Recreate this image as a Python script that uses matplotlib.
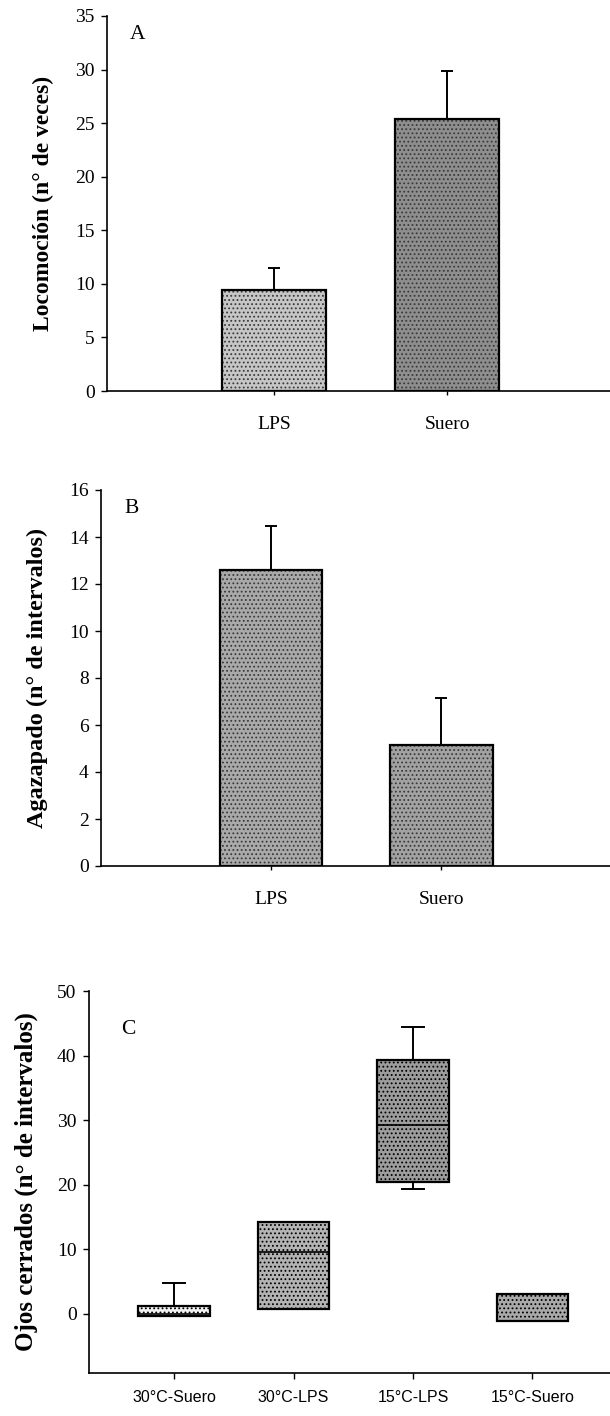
import numpy as np
import matplotlib
matplotlib.use('Agg')
import matplotlib.pyplot as plt

# Panel A: locomotion counts (mean + upper SE)
grupos_ab = ['LPS', 'Suero']
loco_media = [9.4, 25.4]
loco_err = [2.1, 4.5]

# Panel B: crouching intervals
agaz_media = [12.6, 5.15]
agaz_err = [1.85, 2.0]

# Panel C: eyes closed, box summaries
grupos_c = ['30°C-Suero', '30°C-LPS', '15°C-LPS', '15°C-Suero']
ojos_q1 = [-0.3, 0.7, 20.4, -1.2]
ojos_med = [0.0, 9.5, 29.3, -1.2]
ojos_q3 = [1.2, 14.2, 39.3, 3.1]
ojos_min = [-0.3, 0.7, 19.3, -1.2]
ojos_max = [4.8, 14.2, 44.4, 3.1]

tonos_ab = [['#c6c6c6', '#8e8e8e'], ['#a9a9a9', '#a2a2a2']]
tonos_c = ['#f2f2f2', '#b3b3b3', '#9c9c9c', '#a9a9a9']

plt.rcParams['font.family'] = 'serif'
plt.rcParams['font.serif'] = ['Liberation Serif', 'DejaVu Serif']
plt.rcParams['hatch.linewidth'] = 0.8

fig = plt.figure(figsize=(6.1, 14.16), dpi=100)
W, H = 610.0, 1416.0


def caja(x0, y_top, x1, y_bot):
    return [x0 / W, 1 - y_bot / H, (x1 - x0) / W, (y_bot - y_top) / H]


def estilo(ax):
    for s in ['top', 'right']:
        ax.spines[s].set_visible(False)
    for s in ['left', 'bottom']:
        ax.spines[s].set_linewidth(1.2)
    ax.tick_params(axis='y', direction='out', length=4, width=1, labelsize=14, pad=5)


def panel_barras(ax, medias, errs, tonos, xlim, ylim, yticks, letra, ylabel, labx, labsize):
    x = np.arange(1, len(medias) + 1)
    ax.bar(x, medias, width=0.6, color=tonos, edgecolor='none', zorder=2)
    ax.bar(x, medias, width=0.6, color='none', edgecolor='#3a3a3a', hatch='....',
           linewidth=0, zorder=3)
    ax.bar(x, medias, width=0.6, color='none', edgecolor='black', linewidth=1.6, zorder=4)
    ax.errorbar(x, medias, yerr=[np.zeros(len(errs)), errs], fmt='none', ecolor='black',
                elinewidth=1.4, capsize=4.5, capthick=1.4, zorder=1)
    ax.set_xlim(*xlim)
    ax.set_ylim(*ylim)
    ax.set_yticks(yticks)
    ax.set_xticks(x)
    ax.set_xticklabels(grupos_ab, fontsize=14)
    ax.tick_params(axis='x', direction='out', length=3, width=1, pad=15)
    estilo(ax)
    ax.text(0.06, 0.95, letra, transform=ax.transAxes, fontsize=15.5, ha='center', va='center')
    ax.set_ylabel(ylabel, fontsize=labsize, fontweight='bold')
    ax.yaxis.set_label_coords(labx, 0.5)


# A
axA = fig.add_axes(caja(107, 16, 610, 391))
panel_barras(axA, loco_media, loco_err, tonos_ab[0], (0.035, 2.94), (0, 35),
             range(0, 36, 5), 'A', 'Locomoción (n° de veces)', -0.105, 17)

# B
axB = fig.add_axes(caja(101, 490, 610, 866))
panel_barras(axB, agaz_media, agaz_err, tonos_ab[1], (0.0, 2.99), (0, 16),
             range(0, 17, 2), 'B', 'Agazapado (n° de intervalos)', -0.104, 17.5)

# C
axC = fig.add_axes(caja(89, 991, 610, 1373))
stats = []
for i in range(len(grupos_c)):
    stats.append({'q1': ojos_q1[i], 'med': ojos_med[i], 'q3': ojos_q3[i],
                  'whislo': ojos_min[i], 'whishi': ojos_max[i], 'fliers': []})
pos = np.arange(1, len(grupos_c) + 1)
bp = axC.bxp(stats, positions=pos, widths=0.6, patch_artist=True, showfliers=False,
             capwidths=0.19,
             boxprops=dict(linewidth=1.6, edgecolor='black'),
             medianprops=dict(color='black', linewidth=1.2),
             whiskerprops=dict(color='black', linewidth=1.4),
             capprops=dict(color='black', linewidth=1.4))
for caja_p, tono in zip(bp['boxes'], tonos_c):
    caja_p.set_facecolor(tono)
    caja_p.set_hatch('....')
    caja_p.set_zorder(2)
axC.set_xlim(0.287, 4.65)
axC.set_ylim(-9.2, 50)
axC.set_yticks(range(0, 51, 10))
axC.set_xticks(pos)
axC.set_xticklabels(grupos_c, fontsize=11.5, family=['Liberation Sans Narrow', 'Liberation Sans'])
axC.tick_params(axis='x', direction='out', length=4, width=1, pad=8)
estilo(axC)
axC.text(0.075, 0.9, 'C', transform=axC.transAxes, fontsize=15.5, ha='center', va='center')
axC.set_ylabel('Ojos cerrados (n° de intervalos)', fontsize=18, fontweight='bold')
axC.yaxis.set_label_coords(-0.098, 0.5)

fig.savefig('out.png', dpi=100)
